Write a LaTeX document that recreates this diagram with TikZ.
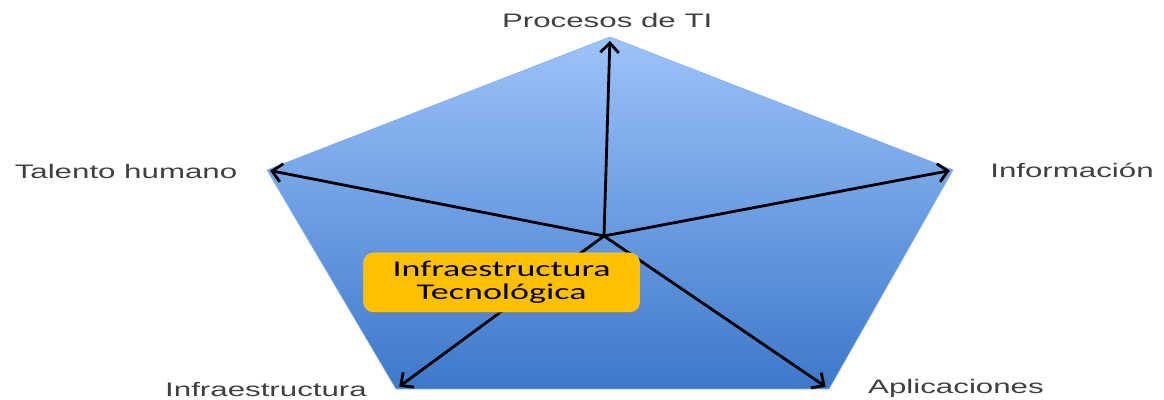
\documentclass[tikz,border=0pt]{standalone}
\usepackage{fontspec}
\setmainfont{Liberation Sans}
\newfontfamily\boxfont{Carlito}
\usetikzlibrary{arrows.meta,shadows,calc}
\definecolor{topblue}{HTML}{9DC3FA}
\definecolor{lowblue}{HTML}{3D78CA}
\definecolor{boxorange}{HTML}{FFC000}
\definecolor{labelgray}{HTML}{404040}
\newcommand{\widetext}[2][1.6]{\scalebox{#1}[1]{#2}}

\begin{document}
\begin{tikzpicture}[
	axisarrow/.style={line width=2pt, -{Straight Barb[length=2.4mm,width=4.6mm]}},
	axislabel/.style={text=labelgray, font=\fontsize{13.9}{16}\selectfont, inner sep=0pt},
	corebox/.style={fill=boxorange, draw=boxorange!80!white, rounded corners=7pt,
		minimum width=6.9cm, minimum height=1.47cm, align=center,
		drop shadow={shadow xshift=0.5pt, shadow yshift=-1.5pt, opacity=0.35},
		font=\boxfont\fontsize{16}{16.6}\selectfont}
	]
			%%%%% START %%%%%
			\useasboundingbox (0, 0) rectangle (29.1, 10);
			
			% pentagon corners and centre
			\coordinate (procesos) at (15.25, 9.075);
			\coordinate (informacion) at (23.825, 5.75);
			\coordinate (aplicaciones) at (20.725, 0.275);
			\coordinate (infra) at (9.9, 0.275);
			\coordinate (talento) at (6.675, 5.75);
			\coordinate (centro) at (15.1, 4.1);
			
			\shade[top color=topblue, bottom color=lowblue, draw=topblue!70!lowblue, line width=0.4pt]
				(procesos) -- (informacion) -- (aplicaciones) -- (infra) -- (talento) -- cycle;
			
			% arrows from the centre
			\draw[axisarrow] (centro) -- ($(procesos)!0.1cm!(centro)$);
			\draw[axisarrow] (centro) -- ($(informacion)!0.08cm!(centro)$);
			\draw[axisarrow] (centro) -- ($(aplicaciones)!0.1cm!(centro)$);
			\draw[axisarrow] (centro) -- ($(infra)!0.1cm!(centro)$);
			\draw[axisarrow] (centro) -- ($(talento)!0.08cm!(centro)$);
			
			\node[corebox] (tecno) at (12.54, 2.94) {\widetext{Infraestructura}\\\widetext{Tecnológica}};
			
			% labels
			\node[axislabel] (lprocesos) at (15.18, 9.475) {\widetext{Procesos de TI}};
			\node[axislabel] (ltalento) at (3.15, 5.7) {\widetext{Talento humano}};
			\node[axislabel] (linformacion) at (26.8, 5.75) {\widetext{Información}};
			\node[axislabel] (linfra) at (6.65, 0.25) {\widetext{Infraestructura}};
			\node[axislabel] (laplicaciones) at (23.9, 0.3) {\widetext{Aplicaciones}};
			
			%%%%% END %%%%%
\end{tikzpicture}
\end{document}
